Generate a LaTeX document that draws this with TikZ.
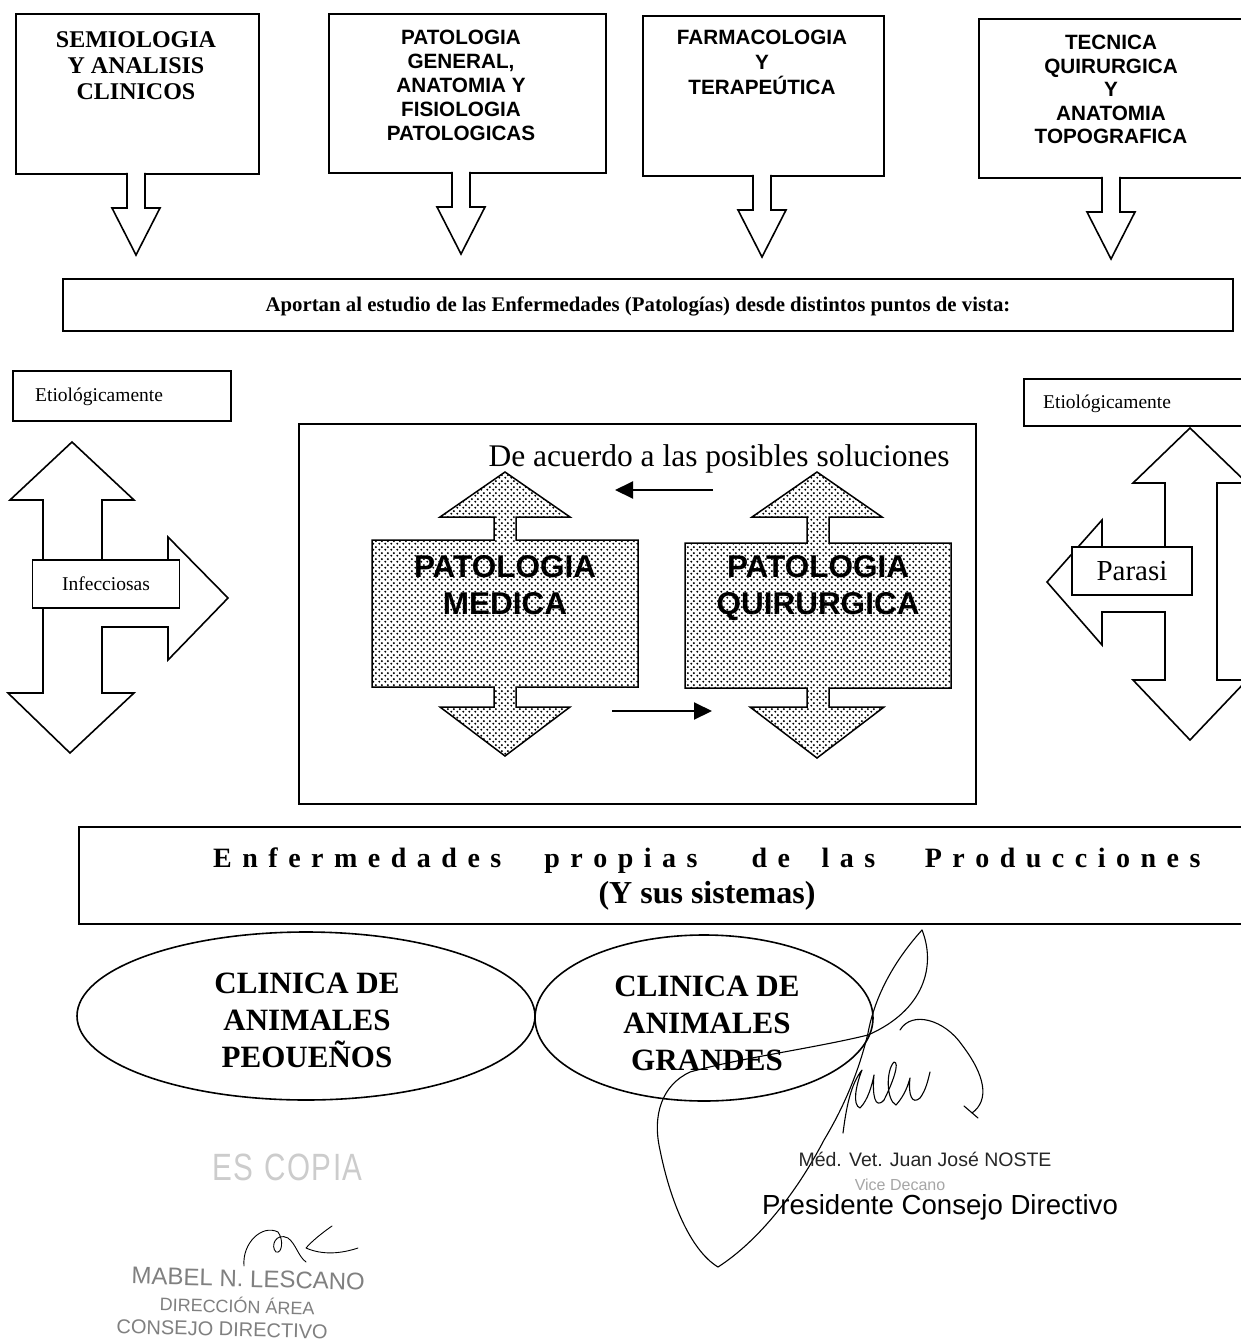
\documentclass[tikz,border=0pt]{standalone}
\usepackage{fontspec}
\setmainfont{Liberation Serif}
\setsansfont{Liberation Sans}
\usetikzlibrary{shapes.geometric,arrows.meta,patterns.meta}

\tikzdeclarepattern{
  name=scandots,
  type=uncolored,
  bottom left={(0pt,0pt)},
  top right={(6pt,6pt)},
  tile size={(6pt,6pt)},
  code={
    \fill (1.5pt,1.5pt) circle [radius=1.25pt];
    \fill (4.5pt,4.5pt) circle [radius=1.25pt];
  }
}

\newlength\lsgap
\setlength\lsgap{10.5pt}
\def\lspword#1{\lsploop#1\relax}
\def\lsploop#1{\ifx\relax#1\else#1\hspace{\lsgap}\expandafter\lsploop\fi}

\definecolor{stampgray}{gray}{0.5}

\begin{document}
\begin{tikzpicture}[x=1pt,y=-1pt,
  boxline/.style={line width=1.8pt},
  tbox/.style={draw, boxline, rectangle, inner sep=0pt, anchor=north west},
  arrline/.style={line width=1.6pt, line join=miter},
  dotarrow/.style={line width=1.5pt, line join=miter, pattern=scandots, pattern color=black},
  ttext/.style={anchor=north, align=center, inner sep=0pt},
  thinarrow/.style={line width=2pt, -{Triangle[length=18pt,width=17pt]}},
  sig/.style={line width=1.1pt, line cap=round, line join=round},
  dnarrow/.pic={
    \fill[white] (-8.2,-3) -- (-8.2,35) -- (-24,35) -- (0,82) -- (24,35) -- (8.2,35) -- (8.2,-3) -- cycle;
    \draw[arrline] (-9,0) -- (-9,35) -- (-24,35) -- (0,82) -- (24,35) -- (9,35) -- (9,0);
  }]
\useasboundingbox[fill=white] (0,0) rectangle (1240,1343);

% ---------- top boxes ----------
\node[tbox, minimum width=243pt, minimum height=160pt] (b1) at (15,13) {};
\node[tbox, minimum width=277pt, minimum height=159pt] (b2) at (328,13) {};
\node[tbox, minimum width=241pt, minimum height=160pt] (b3) at (642,15) {};
\node[tbox, minimum width=290pt, minimum height=159pt] (b4) at (978,18) {};

\node[ttext, font=\fontsize{24}{26}\selectfont\bfseries] (b1t) at (136,31) {SEMIOLOGIA\\Y ANALISIS\\CLINICOS};
\node[ttext, font=\fontsize{20.7}{24}\selectfont\sffamily\bfseries] (b2t) at (461,30) {PATOLOGIA\\GENERAL,\\ANATOMIA Y\\FISIOLOGIA\\PATOLOGICAS};
\node[ttext, font=\fontsize{20.7}{25}\selectfont\sffamily\bfseries] (b3t) at (762,30) {FARMACOLOGIA\\Y\\TERAPEÚTICA};
\node[ttext, font=\fontsize{20.7}{23.5}\selectfont\sffamily\bfseries] (b4t) at (1111,35) {TECNICA\\QUIRURGICA\\Y\\ANATOMIA\\TOPOGRAFICA};

\pic at (136,173) {dnarrow};
\pic at (461,172) {dnarrow};
\pic at (762,175) {dnarrow};
\pic at (1111,177) {dnarrow};

% ---------- Aportan box ----------
\node[tbox, minimum width=1170pt, minimum height=52pt] (ap) at (62,278) {};
\node[anchor=base, inner sep=0pt, font=\fontsize{20.8}{23}\selectfont\bfseries] (apt) at (638,311)
  {Aportan al estudio de las Enfermedades (Patologías) desde distintos puntos de vista:};

% ---------- left etiologic arrow ----------
\node[tbox, minimum width=218pt, minimum height=50pt] (el) at (12,370) {};
\node[anchor=base west, inner sep=0pt, font=\fontsize{19.5}{22}\selectfont] (elt) at (35,401) {Etiológicamente};

\draw[arrline, fill=white] (72,442) -- (134,500) -- (102,500) -- (102,562) -- (168,562) -- (168,537)
  -- (228,598) -- (168,660) -- (168,627) -- (102,627) -- (102,693) -- (134,693) -- (70,753)
  -- (8,693) -- (43,693) -- (43,500) -- (10,500) -- cycle;
\node[draw, boxline, fill=white, rectangle, minimum width=147pt, minimum height=48pt, inner sep=0pt,
  font=\fontsize{19.5}{22}\selectfont] (inf) at (106,584) {Infecciosas};

% ---------- right etiologic arrow ----------
\node[tbox, minimum width=230pt, minimum height=47pt] (er) at (1023,378) {};
\node[anchor=base west, inner sep=0pt, font=\fontsize{19.5}{22}\selectfont] (ert) at (1043,408) {Etiológicamente};

\draw[arrline, fill=white] (1190,428) -- (1247,483) -- (1217,483) -- (1217,680) -- (1247,680)
  -- (1190,740) -- (1133,680) -- (1165,680) -- (1165,612) -- (1102,612) -- (1102,645) -- (1047,582)
  -- (1102,520) -- (1102,547) -- (1165,547) -- (1165,483) -- (1133,483) -- cycle;
\node[draw, boxline, fill=white, rectangle, minimum width=120pt, minimum height=48pt, inner sep=0pt,
  font=\fontsize{29}{31}\selectfont] (par) at (1132,571) {Parasi};

% ---------- central panel ----------
\node[tbox, minimum width=677pt, minimum height=380pt] (cp) at (298,423) {};
\node[anchor=base, inner sep=0pt, font=\fontsize{31.5}{34}\selectfont] (cpt) at (719,466) {De acuerdo a las posibles soluciones};

\draw[dotarrow] (505,472) -- (570,517) -- (516,517) -- (516,540) -- (638,540) -- (638,687) -- (516,687)
  -- (516,707) -- (570,707) -- (505,756) -- (440,707) -- (494,707) -- (494,687) -- (372,687)
  -- (372,540) -- (494,540) -- (494,517) -- (440,517) -- cycle;
\draw[dotarrow] (817,472) -- (882,517) -- (829,517) -- (829,543) -- (951,543) -- (951,688) -- (829,688)
  -- (829,707) -- (884,707) -- (817,758) -- (750,707) -- (807,707) -- (807,688) -- (685,688)
  -- (685,543) -- (807,543) -- (807,517) -- (752,517) -- cycle;

\node[ttext, font=\fontsize{31.5}{37}\selectfont\sffamily\bfseries] (pm) at (505,555) {PATOLOGIA\\MEDICA};
\node[ttext, font=\fontsize{31.5}{37}\selectfont\sffamily\bfseries] (pq) at (818,555) {PATOLOGIA\\QUIRURGICA};

\coordinate (ua1) at (713,490);
\coordinate (ua2) at (615,490);
\coordinate (la1) at (612,711);
\coordinate (la2) at (712,711);
\draw[thinarrow] (ua1) -- (ua2);
\draw[thinarrow] (la1) -- (la2);

% ---------- Enfermedades box ----------
\node[tbox, minimum width=1172pt, minimum height=97pt] (en) at (78,826) {};
\node[anchor=base west, inner sep=0pt, font=\fontsize{28}{30}\selectfont\bfseries] (ent) at (213,867)
  {\lspword{Enfermedades}\hspace{32.5pt}\lspword{propias}\hspace{43.5pt}\lspword{de}\hspace{21pt}\lspword{las}\hspace{39pt}\lspword{Producciones}};
\node[anchor=base, inner sep=0pt, font=\fontsize{32}{34}\selectfont\bfseries] (ent2) at (707,903) {(Y sus sistemas)};

% ---------- ellipses ----------
\node[draw, ellipse, line width=1.6pt, minimum width=458pt, minimum height=168pt, inner sep=0pt] (e1) at (306,1016) {};
\node[draw, ellipse, line width=1.6pt, minimum width=338pt, minimum height=166pt, inner sep=0pt] (e2) at (704,1018) {};
\node[ttext, font=\fontsize{31}{37}\selectfont\bfseries] (e1t) at (307,973) {CLINICA DE\\ANIMALES\\PEOUEÑOS};
\node[ttext, font=\fontsize{31}{37}\selectfont\bfseries] (e2t) at (707,976) {CLINICA DE\\ANIMALES\\GRANDES};

% ---------- signature (right) ----------
\draw[sig] (922,930) .. controls (895,960) and (875,995) .. (868,1033)
  .. controls (858,1075) and (842,1110) .. (824,1140)
  .. controls (798,1190) and (760,1240) .. (718,1267);
\draw[sig] (922,930) .. controls (936,965) and (925,1010) .. (868,1035)
  .. controls (815,1048) and (740,1058) .. (690,1072)
  .. controls (662,1085) and (652,1115) .. (660,1150)
  .. controls (670,1200) and (690,1250) .. (718,1267);
\draw[sig] (900,1030) .. controls (912,1010) and (945,1020) .. (962,1045)
  .. controls (985,1075) and (990,1100) .. (972,1113);
\draw[sig] (964,1106) -- (978,1118);
\draw[sig] (843,1133) .. controls (846,1110) and (850,1085) .. (862,1070)
  .. controls (856,1085) and (852,1105) .. (860,1108)
  .. controls (868,1100) and (872,1085) .. (874,1075)
  .. controls (872,1095) and (875,1110) .. (884,1100)
  .. controls (893,1082) and (900,1062) .. (894,1062)
  .. controls (886,1070) and (886,1100) .. (896,1105)
  .. controls (905,1095) and (908,1085) .. (910,1078)
  .. controls (908,1095) and (912,1105) .. (920,1098)
  .. controls (926,1090) and (928,1080) .. (930,1072);

\node[anchor=base, inner sep=0pt, font=\fontsize{19.5}{22}\selectfont\sffamily, text=black!85] (noste) at (925,1166) {Méd. Vet. Juan José NOSTE};
\node[anchor=base, inner sep=0pt, font=\fontsize{16}{18}\selectfont\sffamily, text=gray!70] (vice) at (900,1190) {Vice Decano};
\node[anchor=base, inner sep=0pt, font=\fontsize{27.6}{30}\selectfont\sffamily] (pres) at (940,1214) {Presidente Consejo Directivo};

% ---------- stamp (left) ----------
\node[anchor=base west, inner sep=0pt, font=\fontsize{38}{40}\selectfont\sffamily, text=gray!40] (copia) at (212,1180)
  {\scalebox{0.78}[1]{E\kern2pt S\kern14pt C\kern2pt O\kern2pt P\kern2pt I\kern2pt A}};
\draw[sig, line width=0.9pt] (244,1266) .. controls (242,1243) and (262,1224) .. (278,1232)
  .. controls (284,1240) and (282,1254) .. (276,1252) .. controls (270,1246) and (276,1232) .. (288,1238)
  .. controls (296,1244) and (298,1256) .. (306,1262);
\draw[sig, line width=0.9pt] (332,1226) .. controls (322,1233) and (312,1241) .. (306,1248)
  .. controls (322,1255) and (340,1254) .. (358,1248);
\begin{scope}[text=stampgray]
\node[anchor=base, inner sep=0pt, rotate=-1.5, font=\fontsize{24}{26}\selectfont\sffamily] (mabel) at (248,1287) {MABEL N. LESCANO};
\node[anchor=base, inner sep=0pt, rotate=-1.5, font=\fontsize{18}{20}\selectfont\sffamily] (dir) at (237,1313) {DIRECCIÓN ÁREA};
\node[anchor=base, inner sep=0pt, rotate=-1.5, font=\fontsize{20}{22}\selectfont\sffamily] (cons) at (222,1336) {CONSEJO DIRECTIVO};
\end{scope}
\end{tikzpicture}
\end{document}
